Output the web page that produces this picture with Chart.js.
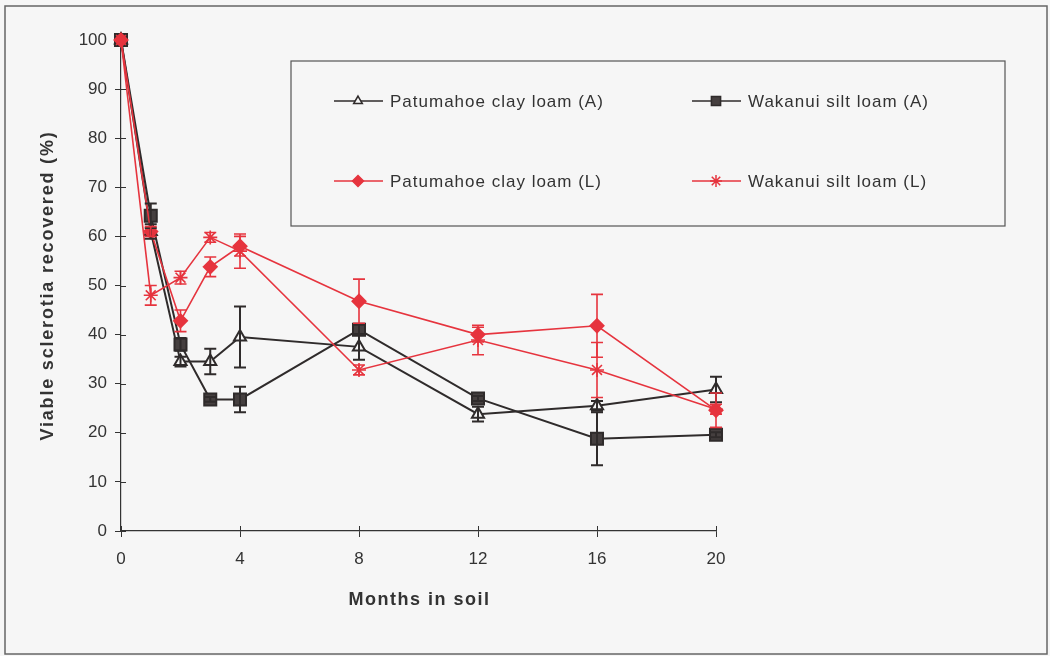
<!DOCTYPE html>
<html>
<head>
<meta charset="utf-8">
<script src="https://cdn.jsdelivr.net/npm/chart.js@4.4.0/dist/chart.umd.min.js"></script>
<style>
	html, body { margin: 0; padding: 0; background: #f6f6f6; }
	canvas { display: block; }
</style>
</head>
<body>
<canvas id="sclerotiaChart" width="1050" height="656"></canvas>
<script>
// months after burial, and % viable sclerotia recovered (mean, +/- error)
const months = [0, 1, 2, 3, 4, 8, 12, 16, 20];
const xTicks = [0, 4, 8, 12, 16, 20];

const patumahoeA = [100, 61, 34.5, 34.5, 39.5, 37.5, 23.8, 25.5, 28.8];
const patumahoeAErr = [0, 1.5, 1, 2.6, 6.2, 2.6, 1.5, 1, 2.6];
const wakanuiA = [100, 64.2, 38, 26.8, 26.8, 41, 27, 18.8, 19.6];
const wakanuiAErr = [0, 2.5, 1.3, 0.5, 2.6, 1, 0.5, 5.4, 0.5];
const patumahoeL = [100, 61, 42.8, 53.8, 58, 46.8, 40, 41.8, 24.6];
const patumahoeLErr = [0, 1, 2.2, 2, 2, 4.5, 1.5, 6.4, 3.5];
const wakanuiL = [100, 48, 51.6, 59.8, 57, 32.8, 38.9, 32.8, 24.8];
const wakanuiLErr = [0, 2, 1.3, 1, 3.5, 1, 3, 5.6, 1];

const xTitle = 'Months in soil';
const yTitle = 'Viable sclerotia recovered (%)';

const dark = '#2f2b2b';
const red = '#e6343e';
const FONT = '"Liberation Sans", Arial, sans-serif';

function pts(ys) {
	return months.map((m, i) => ({ x: m, y: ys[i] }));
}

const series = [
	{ label: 'Patumahoe clay loam (A)', data: pts(patumahoeA), err: patumahoeAErr, color: dark, order: 3,
		pointStyle: 'triangle', radius: 7, legendRadius: 5, fill: '#f6f6f6', lw: 2 },
	{ label: 'Wakanui silt loam (A)', data: pts(wakanuiA), err: wakanuiAErr, color: dark, order: 2,
		pointStyle: 'rect', radius: 8.5, legendRadius: 6.5, fill: '#453f3f', lw: 2 },
	{ label: 'Patumahoe clay loam (L)', data: pts(patumahoeL), err: patumahoeLErr, color: red, order: 1,
		pointStyle: 'rectRot', radius: 6.5, legendRadius: 5.5, fill: red, lw: 1.6 },
	{ label: 'Wakanui silt loam (L)', data: pts(wakanuiL), err: wakanuiLErr, color: red, order: 0,
		pointStyle: 'star', radius: 7, legendRadius: 6, fill: red, lw: 1.6 }
];

// draws text stretched to a given width (the original type is wide)
function wideText(ctx, text, x, y, width) {
	ctx.letterSpacing = '0px';
	const w0 = ctx.measureText(text).width;
	const sp = Math.max(0, (width - w0) / text.length);
	ctx.letterSpacing = sp.toFixed(2) + 'px';
	ctx.fillText(text, x, y);
	ctx.letterSpacing = '0px';
}

// whole-picture frame
const framePlugin = {
	id: 'frame',
	beforeDraw(chart) {
		const { ctx } = chart;
		ctx.save();
		ctx.fillStyle = '#f6f6f6';
		ctx.fillRect(0, 0, chart.width, chart.height);
		ctx.strokeStyle = '#666';
		ctx.lineWidth = 1.5;
		ctx.strokeRect(5, 6, 1042, 648);
		ctx.restore();
	}
};

// tick marks also cross into the plot
const innerTicks = {
	id: 'innerTicks',
	beforeDatasetsDraw(chart) {
		const { ctx, chartArea, scales } = chart;
		ctx.save();
		ctx.strokeStyle = '#333';
		ctx.lineWidth = 1;
		xTicks.forEach(v => {
			const x = Math.round(scales.x.getPixelForValue(v)) + 0.5;
			ctx.beginPath();
			ctx.moveTo(x, chartArea.bottom);
			ctx.lineTo(x, chartArea.bottom - 5);
			ctx.stroke();
		});
		for (let v = 0; v <= 100; v += 10) {
			const y = Math.round(scales.y.getPixelForValue(v)) + 0.5;
			ctx.beginPath();
			ctx.moveTo(chartArea.left, y);
			ctx.lineTo(chartArea.left + 5, y);
			ctx.stroke();
		}
		ctx.restore();
	}
};

const axisTitles = {
	id: 'axisTitles',
	afterDraw(chart) {
		const { ctx, chartArea } = chart;
		ctx.save();
		ctx.fillStyle = '#333';
		ctx.font = 'bold 18px ' + FONT;
		ctx.textAlign = 'center';
		ctx.textBaseline = 'middle';
		wideText(ctx, xTitle, (chartArea.left + chartArea.right) / 2 + 1, 600, 142);
		ctx.translate(48, (chartArea.top + chartArea.bottom) / 2);
		ctx.rotate(-Math.PI / 2);
		wideText(ctx, yTitle, 0, 0, 310);
		ctx.restore();
	}
};

const errorBars = {
	id: 'errorBars',
	afterDatasetsDraw(chart) {
		const { ctx, scales } = chart;
		ctx.save();
		series.forEach((s, di) => {
			const meta = chart.getDatasetMeta(di);
			ctx.strokeStyle = s.color;
			ctx.lineWidth = s.color === dark ? 2 : 1.6;
			meta.data.forEach((p, i) => {
				const e = s.err[i];
				if (!e) return;
				const v = s.data[i].y;
				const y1 = scales.y.getPixelForValue(v + e);
				const y2 = scales.y.getPixelForValue(v - e);
				ctx.beginPath();
				ctx.moveTo(p.x, y1); ctx.lineTo(p.x, y2);
				ctx.moveTo(p.x - 6, y1); ctx.lineTo(p.x + 6, y1);
				ctx.moveTo(p.x - 6, y2); ctx.lineTo(p.x + 6, y2);
				ctx.stroke();
			});
		});
		ctx.restore();
	}
};

// boxed 2x2 legend inside the plot
const boxLegend = {
	id: 'boxLegend',
	afterDraw(chart) {
		const { ctx } = chart;
		ctx.save();
		ctx.strokeStyle = '#555';
		ctx.lineWidth = 1.2;
		ctx.fillStyle = '#f6f6f6';
		ctx.fillRect(291, 61, 714, 165);
		ctx.strokeRect(291, 61, 714, 165);
		const cols = [334, 692];
		const rows = [101, 181];
		series.forEach((s, k) => {
			const x0 = cols[k % 2];
			const y = rows[Math.floor(k / 2)];
			ctx.strokeStyle = s.color;
			ctx.lineWidth = s.color === dark ? 1.5 : 1.3;
			ctx.beginPath();
			ctx.moveTo(x0, y); ctx.lineTo(x0 + 49, y);
			ctx.stroke();
			ctx.fillStyle = s.fill;
			ctx.lineWidth = 1.5;
			Chart.helpers.drawPoint(ctx, {
				pointStyle: s.pointStyle, radius: s.legendRadius, rotation: 0, borderWidth: 1.5
			}, x0 + 24, y);
			ctx.fillStyle = '#333';
			ctx.font = '17px ' + FONT;
			ctx.textBaseline = 'middle';
			ctx.letterSpacing = '1px';
			ctx.fillText(s.label, x0 + 56, y + 1);
			ctx.letterSpacing = '0px';
		});
		ctx.restore();
	}
};

const ctx = document.getElementById('sclerotiaChart').getContext('2d');
new Chart(ctx, {
	type: 'line',
	data: {
		datasets: series.map(s => ({
			label: s.label,
			data: s.data,
			order: s.order,
			borderColor: s.color,
			borderWidth: s.lw,
			pointStyle: s.pointStyle,
			pointRadius: s.radius,
			pointBackgroundColor: s.fill,
			pointBorderColor: s.color,
			pointBorderWidth: s.pointStyle === 'star' ? 1.6 : 2,
			tension: 0,
			clip: false
		}))
	},
	options: {
		responsive: false,
		animation: false,
		events: [],
		layout: { padding: { left: 0, right: 334, top: 40, bottom: 0 } },
		plugins: {
			legend: { display: false },
			tooltip: { enabled: false }
		},
		scales: {
			x: {
				type: 'linear',
				min: 0,
				max: 20,
				afterBuildTicks(scale) { scale.ticks = xTicks.map(v => ({ value: v })); },
				afterFit(scale) { scale.height = 125; },
				grid: { drawOnChartArea: false, tickLength: 6, color: '#333' },
				border: { color: '#333', width: 1.2 },
				ticks: { color: '#333', padding: 12, font: { size: 17, family: FONT } }
			},
			y: {
				min: 0,
				max: 100,
				afterFit(scale) { scale.width = 121; },
				ticks: { stepSize: 10, color: '#333', padding: 8, font: { size: 17, family: FONT } },
				grid: { drawOnChartArea: false, tickLength: 6, color: '#333' },
				border: { color: '#333', width: 1.2 }
			}
		}
	},
	plugins: [framePlugin, errorBars, innerTicks, axisTitles, boxLegend]
});
</script>
</body>
</html>
